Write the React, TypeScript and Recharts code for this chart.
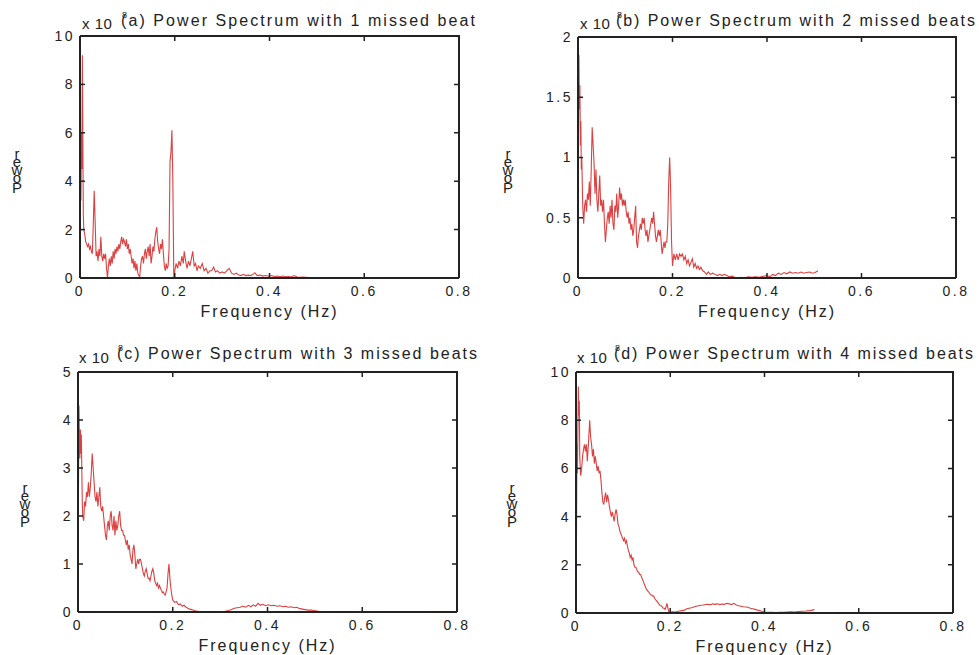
import React from "react";
import { LineChart, Line, XAxis, YAxis } from "recharts";

// (a) 1 missed beat
const freqA = [
  0.000, 0.001, 0.002, 0.003, 0.004, 0.005, 0.006, 0.007, 0.008, 0.010,
  0.012, 0.014, 0.016, 0.018, 0.020, 0.022, 0.024, 0.026, 0.028, 0.030,
  0.032, 0.034, 0.036, 0.038, 0.040, 0.042, 0.044, 0.046, 0.048, 0.050,
  0.052, 0.054, 0.056, 0.058, 0.060, 0.062, 0.064, 0.066, 0.068, 0.070,
  0.072, 0.074, 0.076, 0.078, 0.080, 0.082, 0.084, 0.086, 0.088, 0.090,
  0.092, 0.094, 0.096, 0.098, 0.100, 0.102, 0.104, 0.106, 0.108, 0.110,
  0.112, 0.114, 0.116, 0.118, 0.120, 0.122, 0.124, 0.126, 0.128, 0.130,
  0.132, 0.134, 0.136, 0.138, 0.140, 0.142, 0.144, 0.146, 0.148, 0.150,
  0.152, 0.154, 0.156, 0.158, 0.160, 0.162, 0.164, 0.166, 0.168, 0.170,
  0.172, 0.174, 0.176, 0.178, 0.180, 0.182, 0.184, 0.186, 0.188, 0.190,
  0.192, 0.194, 0.196, 0.198, 0.200, 0.203, 0.206, 0.209, 0.212, 0.215,
  0.218, 0.220, 0.223, 0.226, 0.229, 0.232, 0.235, 0.238, 0.241, 0.244,
  0.247, 0.250, 0.254, 0.258, 0.262, 0.266, 0.270, 0.274, 0.278, 0.282,
  0.286, 0.290, 0.295, 0.300, 0.305, 0.310, 0.315, 0.320, 0.325, 0.330,
  0.335, 0.340, 0.345, 0.350, 0.355, 0.360, 0.365, 0.369, 0.374, 0.380,
  0.386, 0.392, 0.398, 0.404, 0.410, 0.416, 0.422, 0.428, 0.434, 0.440,
  0.446, 0.452, 0.458, 0.464, 0.470, 0.476, 0.482, 0.488, 0.494, 0.500,
  0.506, 0.510,
];
const powerA = [
  0.3, 5.6, 3.2, 6.0, 4.5, 9.2, 5.5, 2.6, 2.0, 1.8,
  1.5, 1.4, 1.3, 1.4, 1.2, 1.3, 1.1, 1.0, 2.2, 3.6,
  2.3, 0.9, 1.1, 0.7, 1.2, 0.9, 1.7, 0.9, 0.7, 1.0,
  0.8, 1.0, 0.4, 0.0, 0.5, 0.8, 0.5, 0.9, 0.6, 1.1,
  0.8, 1.2, 1.0, 1.3, 1.1, 1.4, 1.2, 1.5, 1.7, 1.4,
  1.6, 1.5, 1.3, 1.6, 1.2, 1.4, 1.0, 1.2, 0.9, 0.6,
  0.8, 0.4, 0.7, 0.3, 0.6, 0.2, 0.1, 0.05, 0.5, 0.8,
  0.9, 0.6, 1.0, 1.2, 0.8, 1.1, 1.3, 0.9, 1.4, 0.6,
  0.9, 1.3, 1.1, 1.6, 1.9, 2.1, 1.5, 1.2, 1.0, 1.4,
  1.2, 1.6, 1.0, 0.5, 0.3, 0.6, 0.4, 0.5, 1.2, 4.8,
  5.2, 6.1, 4.0, 0.0, 0.3, 0.6, 0.4, 0.7, 0.5, 0.9,
  0.6, 1.1, 0.7, 0.4, 0.7, 0.5, 0.8, 1.1, 0.5, 0.6,
  0.3, 0.5, 0.4, 0.6, 0.3, 0.4, 0.2, 0.3, 0.3, 0.45,
  0.25, 0.3, 0.2, 0.25, 0.2, 0.3, 0.4, 0.2, 0.15, 0.2,
  0.12, 0.1, 0.15, 0.1, 0.12, 0.1, 0.15, 0.22, 0.1, 0.12,
  0.08, 0.1, 0.07, 0.1, 0.06, 0.08, 0.05, 0.08, 0.05, 0.06,
  0.04, 0.1, 0.04, 0.03, 0.04, 0.03, 0.02, 0.02, 0.02, 0.01,
  0.02, 0.01,
];

// (b) 2 missed beats
const freqB = [
  0.000, 0.001, 0.002, 0.003, 0.004, 0.005, 0.006, 0.007, 0.008, 0.010,
  0.012, 0.014, 0.016, 0.018, 0.020, 0.022, 0.024, 0.026, 0.028, 0.030,
  0.032, 0.034, 0.036, 0.038, 0.040, 0.042, 0.044, 0.046, 0.048, 0.050,
  0.052, 0.054, 0.056, 0.058, 0.060, 0.062, 0.064, 0.066, 0.068, 0.070,
  0.072, 0.074, 0.076, 0.078, 0.080, 0.082, 0.084, 0.086, 0.088, 0.090,
  0.092, 0.094, 0.096, 0.098, 0.100, 0.102, 0.104, 0.106, 0.108, 0.110,
  0.112, 0.114, 0.116, 0.118, 0.120, 0.122, 0.124, 0.126, 0.128, 0.130,
  0.132, 0.134, 0.136, 0.138, 0.140, 0.142, 0.144, 0.146, 0.148, 0.150,
  0.152, 0.154, 0.156, 0.158, 0.160, 0.162, 0.164, 0.166, 0.168, 0.170,
  0.172, 0.174, 0.176, 0.178, 0.180, 0.182, 0.184, 0.186, 0.188, 0.190,
  0.192, 0.194, 0.196, 0.198, 0.200, 0.203, 0.206, 0.209, 0.212, 0.215,
  0.218, 0.221, 0.224, 0.227, 0.230, 0.233, 0.236, 0.239, 0.242, 0.245,
  0.248, 0.251, 0.254, 0.257, 0.260, 0.264, 0.268, 0.272, 0.276, 0.280,
  0.285, 0.290, 0.295, 0.300, 0.305, 0.310, 0.315, 0.320, 0.326, 0.332,
  0.338, 0.345, 0.352, 0.360, 0.368, 0.376, 0.384, 0.392, 0.400, 0.406,
  0.412, 0.418, 0.424, 0.430, 0.436, 0.442, 0.448, 0.454, 0.460, 0.466,
  0.472, 0.478, 0.484, 0.490, 0.496, 0.502, 0.508,
];
const powerB = [
  0.3, 1.2, 1.85, 1.4, 1.6, 1.1, 1.3, 0.9, 1.0, 0.6,
  0.45, 0.6, 0.65, 0.55, 0.7, 0.65, 0.8, 0.6, 0.9, 1.25,
  1.1, 0.95, 0.7, 0.9, 0.65, 0.55, 0.7, 0.85, 0.6, 0.65,
  0.55, 0.65, 0.45, 0.3, 0.4, 0.5, 0.55, 0.45, 0.6, 0.5,
  0.65, 0.45, 0.4, 0.6, 0.55, 0.7, 0.5, 0.6, 0.75, 0.65,
  0.7, 0.6, 0.65, 0.6, 0.65, 0.55, 0.5, 0.55, 0.45, 0.5,
  0.4, 0.45, 0.35, 0.4, 0.5, 0.6, 0.3, 0.25, 0.35, 0.4,
  0.45, 0.4, 0.5, 0.45, 0.5, 0.4, 0.35, 0.4, 0.3, 0.35,
  0.4, 0.45, 0.5, 0.45, 0.55, 0.45, 0.35, 0.3, 0.35, 0.4,
  0.35, 0.4, 0.3, 0.2, 0.25, 0.3, 0.25, 0.3, 0.3, 0.45,
  0.8, 1.0, 0.75, 0.3, 0.1, 0.2, 0.15, 0.2, 0.15, 0.2,
  0.18, 0.2, 0.15, 0.18, 0.12, 0.15, 0.1, 0.13, 0.16, 0.09,
  0.12, 0.08, 0.1, 0.07, 0.09, 0.06, 0.05, 0.03, 0.05, 0.03,
  0.04, 0.03, 0.02, 0.03, 0.02, 0.03, 0.02, 0.01, 0.015, 0.005,
  0.0, 0.005, 0.0, 0.01, 0.005, 0.01, 0.005, 0.015, 0.02, 0.01,
  0.03, 0.02, 0.04, 0.03, 0.045, 0.035, 0.05, 0.04, 0.045, 0.04,
  0.05, 0.04, 0.045, 0.05, 0.04, 0.045, 0.06,
];

// (c) 3 missed beats
const freqC = [
  0.000, 0.001, 0.002, 0.003, 0.004, 0.005, 0.006, 0.007, 0.008, 0.009,
  0.010, 0.012, 0.014, 0.016, 0.018, 0.020, 0.022, 0.024, 0.026, 0.028,
  0.030, 0.032, 0.034, 0.036, 0.038, 0.040, 0.042, 0.044, 0.046, 0.048,
  0.050, 0.052, 0.054, 0.056, 0.058, 0.060, 0.062, 0.064, 0.066, 0.068,
  0.070, 0.072, 0.074, 0.076, 0.078, 0.080, 0.082, 0.084, 0.086, 0.088,
  0.090, 0.092, 0.094, 0.096, 0.098, 0.100, 0.102, 0.104, 0.106, 0.108,
  0.110, 0.112, 0.114, 0.116, 0.118, 0.120, 0.122, 0.124, 0.126, 0.128,
  0.130, 0.132, 0.134, 0.136, 0.138, 0.140, 0.142, 0.144, 0.146, 0.148,
  0.150, 0.152, 0.154, 0.156, 0.158, 0.160, 0.162, 0.164, 0.166, 0.168,
  0.170, 0.172, 0.174, 0.176, 0.178, 0.180, 0.182, 0.184, 0.186, 0.188,
  0.190, 0.192, 0.194, 0.196, 0.198, 0.200, 0.204, 0.208, 0.212, 0.216,
  0.220, 0.224, 0.228, 0.232, 0.236, 0.240, 0.245, 0.250, 0.256, 0.262,
  0.270, 0.280, 0.290, 0.300, 0.310, 0.318, 0.324, 0.330, 0.336, 0.342,
  0.348, 0.354, 0.360, 0.365, 0.370, 0.375, 0.380, 0.385, 0.390, 0.396,
  0.402, 0.408, 0.414, 0.420, 0.426, 0.432, 0.438, 0.444, 0.450, 0.456,
  0.462, 0.468, 0.474, 0.480, 0.486, 0.492, 0.498, 0.504, 0.510,
];
const powerC = [
  0.3, 2.5, 4.3, 3.6, 3.2, 3.8, 3.3, 3.7, 3.0, 2.3,
  2.0, 1.9, 2.3, 2.2, 2.5, 2.4, 2.7, 2.4, 2.6, 2.9,
  3.3, 3.0, 2.7, 2.4, 2.3, 2.5, 2.2, 2.4, 2.6, 2.2,
  2.1, 2.2, 2.0, 1.8, 1.6, 1.5, 1.8, 1.9, 1.7, 2.0,
  2.1, 1.8, 1.7, 2.0, 1.6, 1.9, 1.7, 1.8, 2.0, 2.1,
  1.8, 1.7, 1.7, 1.6, 1.6, 1.5, 1.4, 1.5, 1.3, 1.4,
  1.2, 1.1, 1.0, 1.3, 1.4, 1.2, 0.9, 1.0, 1.1, 1.0,
  1.1, 1.1, 1.0, 0.9, 0.8, 0.75, 0.85, 0.9, 0.8, 0.7,
  0.7, 0.65, 0.75, 0.85, 0.9, 0.8, 0.65, 0.6, 0.55, 0.6,
  0.5, 0.55, 0.5, 0.45, 0.4, 0.42, 0.38, 0.35, 0.42, 0.5,
  0.8, 1.0, 0.7, 0.5, 0.35, 0.25, 0.2, 0.22, 0.15, 0.17,
  0.12, 0.14, 0.1, 0.08, 0.06, 0.05, 0.03, 0.02, 0.01, 0.01,
  0.005, 0.01, 0.005, 0.01, 0.015, 0.03, 0.05, 0.08, 0.09, 0.1,
  0.12, 0.1, 0.14, 0.11, 0.15, 0.12, 0.18, 0.14, 0.16, 0.13,
  0.15, 0.13, 0.14, 0.12, 0.13, 0.11, 0.12, 0.1, 0.11, 0.09,
  0.1, 0.07, 0.06, 0.05, 0.04, 0.04, 0.03, 0.02, 0.01,
];

// (d) 4 missed beats
const freqD = [
  0.000, 0.001, 0.002, 0.003, 0.004, 0.005, 0.006, 0.007, 0.008, 0.009,
  0.010, 0.012, 0.014, 0.016, 0.018, 0.020, 0.022, 0.024, 0.026, 0.028,
  0.029, 0.031, 0.033, 0.035, 0.037, 0.039, 0.041, 0.043, 0.045, 0.047,
  0.049, 0.051, 0.053, 0.055, 0.057, 0.059, 0.061, 0.063, 0.065, 0.067,
  0.069, 0.071, 0.073, 0.075, 0.077, 0.079, 0.081, 0.083, 0.085, 0.087,
  0.089, 0.091, 0.093, 0.095, 0.097, 0.099, 0.101, 0.103, 0.105, 0.107,
  0.109, 0.111, 0.113, 0.115, 0.117, 0.119, 0.121, 0.123, 0.125, 0.127,
  0.129, 0.131, 0.133, 0.135, 0.137, 0.139, 0.141, 0.143, 0.145, 0.147,
  0.149, 0.151, 0.153, 0.155, 0.157, 0.159, 0.161, 0.163, 0.165, 0.167,
  0.169, 0.171, 0.173, 0.175, 0.177, 0.179, 0.181, 0.183, 0.185, 0.187,
  0.189, 0.191, 0.193, 0.195, 0.197, 0.200, 0.205, 0.210, 0.215, 0.220,
  0.225, 0.230, 0.235, 0.240, 0.245, 0.250, 0.255, 0.260, 0.265, 0.270,
  0.275, 0.280, 0.285, 0.290, 0.295, 0.300, 0.305, 0.310, 0.315, 0.320,
  0.325, 0.330, 0.335, 0.340, 0.345, 0.350, 0.355, 0.360, 0.365, 0.370,
  0.375, 0.380, 0.385, 0.390, 0.395, 0.400, 0.408, 0.416, 0.424, 0.432,
  0.440, 0.448, 0.456, 0.464, 0.472, 0.480, 0.488, 0.496, 0.502, 0.506,
];
const powerD = [
  0.4, 3.0, 7.0, 5.8, 7.5, 9.4, 8.2, 8.8, 6.5, 6.0,
  5.7, 6.0, 6.5, 6.8, 7.0, 6.7, 7.0, 6.3, 6.9, 7.6,
  8.0, 7.3, 7.0, 6.5, 6.8, 6.2, 6.5, 6.2, 5.9, 6.1,
  5.8, 5.9, 5.5, 5.0, 4.6, 4.5, 4.8, 5.0, 4.6, 4.9,
  4.7, 4.4, 4.2, 4.0, 4.2, 4.0, 3.8, 4.1, 4.3, 4.1,
  3.7, 3.6, 3.4, 3.3, 3.2, 3.1, 3.0, 3.1, 2.9, 3.0,
  2.8, 2.6, 2.5, 2.3, 2.4, 2.2, 2.3, 2.0, 1.9, 1.9,
  1.8, 1.7, 1.7, 1.6, 1.6, 1.5, 1.4, 1.3, 1.2, 1.1,
  1.0, 0.95, 0.9, 0.85, 0.8, 0.75, 0.75, 0.7, 0.7, 0.6,
  0.55, 0.5, 0.45, 0.4, 0.35, 0.3, 0.3, 0.25, 0.2, 0.2,
  0.15, 0.25, 0.4, 0.2, 0.05, 0.04, 0.05, 0.04, 0.06, 0.08,
  0.1, 0.12, 0.18, 0.2, 0.22, 0.25, 0.28, 0.3, 0.32, 0.33,
  0.35, 0.36, 0.34, 0.38, 0.36, 0.38, 0.35, 0.37, 0.36, 0.4,
  0.38, 0.35, 0.4, 0.33, 0.3, 0.28, 0.26, 0.25, 0.24, 0.2,
  0.18, 0.15, 0.12, 0.1, 0.06, 0.04, 0.03, 0.03, 0.02, 0.03,
  0.03, 0.04, 0.05, 0.04, 0.06, 0.07, 0.08, 0.1, 0.12, 0.15,
];

const xTicks = [0, 0.2, 0.4, 0.6, 0.8];
const yTicksA = [0, 2, 4, 6, 8, 10];
const yTicksB = [0, 0.5, 1, 1.5, 2];
const yTicksC = [0, 1, 2, 3, 4, 5];
const yTicksD = [0, 2, 4, 6, 8, 10];

const titles = [
  "(a) Power Spectrum with 1 missed beat",
  "(b) Power Spectrum with 2 missed beats",
  "(c) Power Spectrum with 3 missed beats",
  "(d) Power Spectrum with 4 missed beats",
];
const xLabel = "Frequency (Hz)";
const yLabel = "Power";
const scaleText = "x 10";
const scaleExp = "8";

const FONT = "'Liberation Sans', Arial, Helvetica, sans-serif";
const INK = "#222";
const AXIS = "#222";
const RED = "#dc4040";
const X_MAX = 0.8;
const TICK_LEN = 5;
const Y_AXIS_W = 30;
const X_AXIS_H = 30;
const BOX_W = 2;

const panels = [
  { left: 0, top: 0, width: 480, height: 330, margin: { top: 36, right: 21, bottom: 22, left: 50 }, freq: freqA, power: powerA, yTicks: yTicksA },
  { left: 490, top: 0, width: 489, height: 330, margin: { top: 37, right: 23, bottom: 22, left: 58 }, freq: freqB, power: powerB, yTicks: yTicksB },
  { left: 0, top: 330, width: 480, height: 325, margin: { top: 42, right: 23, bottom: 13, left: 48 }, freq: freqC, power: powerC, yTicks: yTicksC },
  { left: 490, top: 330, width: 489, height: 325, margin: { top: 42, right: 26, bottom: 12, left: 56 }, freq: freqD, power: powerD, yTicks: yTicksD },
];

// title / y-label placement (page coords)
const headings = [
  { sx: 82, sy: 29, tx: 121, ty: 26, tw: 354, lx: 17, ly: 193 },
  { sx: 580, sy: 29, tx: 616, ty: 26, tw: 359, lx: 508, ly: 193 },
  { sx: 79, sy: 363, tx: 117, ty: 359, tw: 360, lx: 25, ly: 527 },
  { sx: 577, sy: 363, tx: 614, ty: 359, tw: 359, lx: 512, ly: 527 },
];

const tickStyle = { fill: INK, fontSize: 14, fontFamily: FONT, letterSpacing: 2.5 };

function Panel({ left, top, width, height, margin, freq, power, yTicks }: any) {
  const data = freq.map((f: number, i: number) => ({ f, p: power[i] }));
  const yMax = yTicks[yTicks.length - 1];
  return (
    <div style={{ position: "absolute", left, top, width, height }}>
      <LineChart width={width} height={height} data={data} margin={margin}>
        <XAxis
          dataKey="f"
          type="number"
          domain={[0, X_MAX]}
          ticks={xTicks}
          height={X_AXIS_H}
          axisLine={{ stroke: AXIS, strokeWidth: BOX_W }}
          tickLine={{ stroke: AXIS, strokeWidth: 1.5 }}
          tickSize={-TICK_LEN}
          tickMargin={13}
          tick={tickStyle}
          label={{ value: xLabel, position: "bottom", offset: -2, fill: INK, fontSize: 16, fontFamily: FONT, letterSpacing: 2 }}
        />
        <YAxis
          type="number"
          domain={[0, yMax]}
          ticks={yTicks}
          width={Y_AXIS_W}
          axisLine={{ stroke: AXIS, strokeWidth: BOX_W }}
          tickLine={{ stroke: AXIS, strokeWidth: 1.5 }}
          tickSize={-TICK_LEN}
          tickMargin={10}
          tick={tickStyle}
        />
        <Line
          dataKey="p"
          type="linear"
          stroke={RED}
          strokeWidth={1.1}
          dot={false}
          activeDot={false}
          isAnimationActive={false}
        />
      </LineChart>
    </div>
  );
}

// MATLAB-style box: top and right edges with inward ticks, drawn over each panel
function Frame({ p }: any) {
  const x0 = p.margin.left + Y_AXIS_W;
  const y0 = p.margin.top;
  const x1 = p.width - p.margin.right;
  const y1 = p.height - p.margin.bottom - X_AXIS_H;
  const yMax = p.yTicks[p.yTicks.length - 1];
  const sx = (v: number) => x0 + ((x1 - x0) * v) / X_MAX;
  const sy = (v: number) => y1 - ((y1 - y0) * v) / yMax;
  const tickPath =
    xTicks.slice(1, -1).map((t) => `M${sx(t)},${y0}v${TICK_LEN}`).join("") +
    p.yTicks.slice(1, -1).map((t: number) => `M${x1},${sy(t)}h${-TICK_LEN}`).join("");
  return (
    <svg
      width={p.width}
      height={p.height}
      style={{ position: "absolute", left: p.left, top: p.top, pointerEvents: "none", overflow: "visible" }}
    >
      <path d={`M${x0},${y0}H${x1}V${y1}`} stroke={AXIS} strokeWidth={BOX_W} fill="none" />
      <path d={tickPath} stroke={AXIS} strokeWidth={1.5} fill="none" />
    </svg>
  );
}

export default function App() {
  const letters = yLabel.split("");
  return (
    <div style={{ position: "absolute", left: 0, top: 0, width: 979, height: 655, background: "#fff", overflow: "hidden" }}>
      {panels.map((p, i) => (
        <Panel key={i} {...p} />
      ))}
      {panels.map((p, i) => (
        <Frame key={`f${i}`} p={p} />
      ))}
      <svg width={979} height={655} style={{ position: "absolute", left: 0, top: 0, pointerEvents: "none" }}>
        {headings.map((h, i) => (
          <g key={i} fontFamily={FONT} fill={INK}>
            <text x={h.sx} y={h.sy} fontSize={15} letterSpacing={0.5}>{scaleText}</text>
            <text x={h.tx + 1} y={h.ty - 8} fontSize={9}>{scaleExp}</text>
            <text x={h.tx} y={h.ty} fontSize={16} textLength={h.tw} lengthAdjust="spacing">{titles[i]}</text>
            <text x={h.lx} y={h.ly} fontSize={15} textAnchor="middle">
              {letters.map((c, j) => (
                <tspan key={j} x={h.lx} dy={j === 0 ? 0 : j === 1 ? -10 : -8}>{c}</tspan>
              ))}
            </text>
          </g>
        ))}
      </svg>
    </div>
  );
}
